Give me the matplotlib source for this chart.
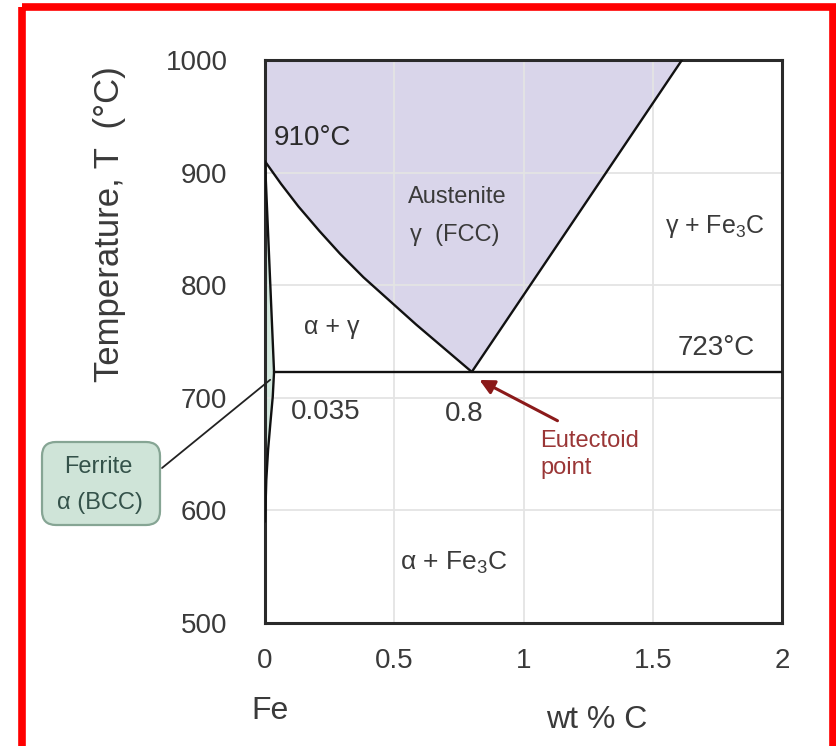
import matplotlib
matplotlib.use("Agg")
import matplotlib.pyplot as plt
from matplotlib.patches import FancyBboxPatch, Rectangle, ConnectionPatch

plt.rcParams["font.family"] = ["Liberation Sans", "DejaVu Sans"]
plt.rcParams["mathtext.fontset"] = "custom"
plt.rcParams["mathtext.rm"] = "Liberation Sans"
plt.rcParams["mathtext.it"] = "Liberation Sans:italic"

# Fe-C phase boundaries (wt % C, temperature in deg C)
a3_wt = [0, 0.062, 0.129, 0.211, 0.290, 0.381, 0.585, 0.8]
a3_temp = [910, 890, 870, 848, 828, 807, 765, 723]
acm_wt = [0.8, 1.613]
acm_temp = [723, 1000]
alpha_wt = [0, 0.035]
alpha_temp = [910, 723]
solvus_wt = [0.035, 0.030, 0.021, 0.012, 0.005, 0.002, 0]
solvus_temp = [723, 701, 678, 654, 627, 603, 590]
eutectoid_wt = 0.8
eutectoid_temp = 723
alpha_max_wt = 0.035

x_ticks = [0, 0.5, 1, 1.5, 2]
x_tick_labels = ["0", "0.5", "1", "1.5", "2"]
y_ticks = [500, 600, 700, 800, 900, 1000]

W, H = 836, 746
fig = plt.figure(figsize=(W / 100, H / 100), dpi=100)
ax = fig.add_axes([265 / W, 1 - 623 / H, (782 - 265) / W, (623 - 60) / H])

# overlay in pixel units for labels and the frame
frame = fig.add_axes([0, 0, 1, 1], zorder=5)
frame.set_xlim(0, W)
frame.set_ylim(H, 0)
frame.axis("off")
frame.patch.set_alpha(0)

ax.set_xlim(0, 2)
ax.set_ylim(500, 1000)

# phase fields
aus_x = [0] + a3_wt + acm_wt[1:]
aus_y = [1000] + a3_temp + acm_temp[1:]
ax.fill(aus_x, aus_y, color="#d9d5ea", lw=0, zorder=0.2)
fer_x = alpha_wt + solvus_wt[1:]
fer_y = alpha_temp + solvus_temp[1:]
ax.fill(fer_x, fer_y, color="#d3e8de", lw=0, zorder=0.2)

line_kw = dict(color="#111111", lw=1.7, zorder=3, solid_capstyle="round",
               solid_joinstyle="round")
ax.plot(a3_wt, a3_temp, **line_kw)
ax.plot(acm_wt, acm_temp, **line_kw)
ax.plot(alpha_wt, alpha_temp, **line_kw)
ax.plot(solvus_wt, solvus_temp, **line_kw)
ax.plot([alpha_max_wt, 2], [eutectoid_temp, eutectoid_temp], **line_kw)

ax.set_axisbelow(True)
ax.grid(color="#e4e4e4", lw=1.3)
for s in ax.spines.values():
    s.set_color("#2a2a2a")
    s.set_linewidth(2.2)
ax.set_xticks(x_ticks)
ax.set_xticklabels(x_tick_labels)
ax.set_yticks(y_ticks)
ax.tick_params(length=0, labelsize=20, labelcolor="#3a3a3a")
ax.tick_params(axis="x", pad=18)
ax.tick_params(axis="y", pad=27)

txt = dict(ha="center", va="center", color="#3a3a3a")
frame.text(274, 138, "910°C", ha="left", va="center", fontsize=20, color="#2a2a2a")
frame.text(457, 197, "Austenite", fontsize=17, **txt)
frame.text(455, 235, "γ  (FCC)", fontsize=17, **txt)
frame.text(332, 327, "α + γ", fontsize=18, **txt)
frame.text(715, 227, "γ + Fe$_3$C", fontsize=18, **txt)
frame.text(716, 348, "723°C", fontsize=20, **txt)
frame.text(326, 412, "0.035", fontsize=20, **txt)
ax.text(eutectoid_wt - 0.03, 686, "0.8", fontsize=20, **txt)
frame.text(454, 563, "α + Fe$_3$C", fontsize=19, **txt)

# eutectoid callout
frame.text(540, 430, "Eutectoid\npoint", ha="left", va="top", fontsize=17,
           color="#9a3636", linespacing=1.3)
ax.annotate("", xy=(eutectoid_wt + 0.02, eutectoid_temp - 6), xytext=(1.141, 678.5),
            arrowprops=dict(arrowstyle="-|>", color="#8b1a1a", lw=2.2, mutation_scale=22))

# axis labels
frame.text(110, 224, "Temperature, T  (°C)", rotation=90, fontsize=25, **txt)
frame.text(270, 711, "Fe", fontsize=23, **txt)
frame.text(597, 720, "wt % C", fontsize=23, **txt)

# ferrite callout box
box = FancyBboxPatch((42, 442), 118, 83, boxstyle="round,pad=0,rounding_size=14",
                     fc="#cfe4d8", ec="#86a594", lw=1.6)
frame.add_patch(box)
frame.text(98, 467, "Ferrite", fontsize=17, ha="center", va="center", color="#34524a")
frame.text(100, 503, "α (BCC)", fontsize=17, ha="center", va="center", color="#34524a")
con = ConnectionPatch(xyA=(162, 468), coordsA=frame.transData,
                      xyB=(0.02, 716), coordsB=ax.transData, color="#222222", lw=1.3)
fig.add_artist(con)

# red border
frame.add_patch(Rectangle((22, 7), 811, 800, fill=False, ec="#ff0000", lw=5.5))

fig.savefig("out.png", dpi=100)
